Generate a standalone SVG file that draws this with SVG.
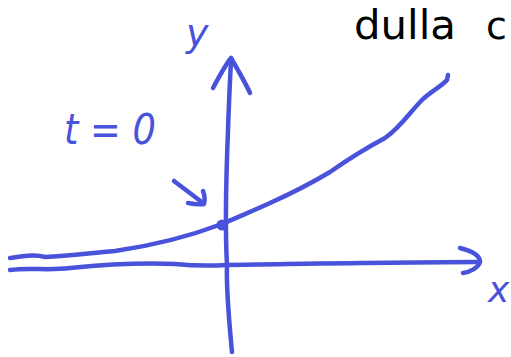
<svg xmlns="http://www.w3.org/2000/svg" width="511" height="357" viewBox="0 0 511 357">
<style>
.ink{fill:none;stroke:#4852da;stroke-width:4.5;stroke-linecap:round;stroke-linejoin:round}
.lbl{fill:#4852da;font-family:"DejaVu Sans",sans-serif;font-style:italic}
.note{fill:#000;font-family:"DejaVu Sans",sans-serif}
</style>
<rect width="511" height="357" fill="#fff"/>
<g id="connectors">
<path id="y-axis" class="ink" d="M232,352 C229,320 226,290 227,265 C225,230 226,180 228,130 C229,100 230,80 231,60"/>
<path id="y-head" class="ink" d="M213,88 C220,75 226,64 231,58 C238,70 245,82 250,93"/>
<path id="x-axis" class="ink" d="M10,270 C30,267 45,271 70,268 C110,264 150,263 175,264 C195,266 210,266 227,265 C300,264 400,262 478,262"/>
<path id="x-head" class="ink" d="M460,248 C472,251 480,256 480,262 C478,268 470,272 463,273"/>
<path id="curve" class="ink" d="M10,258 C25,256 35,254 45,257 C70,256 90,253 115,251 C150,246 190,236 222,224 C240,216 255,210 270,203 C290,194 310,184 330,172 C350,158 370,146 385,138 C400,128 410,112 422,100 C430,92 442,86 447,80 L448,75"/>
<path id="pointer" class="ink" d="M174,181 L203,203 M203,191 C205,196 205,200 204,204 C199,205 193,204 188,203"/>
</g>
<g id="origin-dot"><circle cx="222" cy="225" r="5.5" fill="#4852da"/></g>
<g id="label-y"><text class="lbl" x="186" y="46" font-size="38">y</text></g>
<g id="label-x"><text class="lbl" x="488" y="302" font-size="36">x</text></g>
<g id="label-t"><text class="lbl" x="64" y="144" font-size="42" textLength="92" lengthAdjust="spacingAndGlyphs">t = 0</text></g>
<g id="note"><text class="note" x="354" y="39" font-size="40" textLength="102" lengthAdjust="spacingAndGlyphs">dulla</text><text class="note" x="486" y="39" font-size="38">c</text></g>
</svg>
